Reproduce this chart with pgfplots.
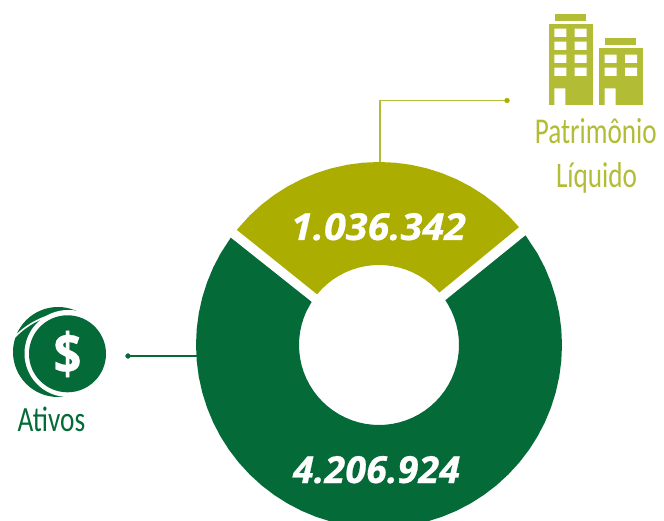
\documentclass[border=0pt]{standalone}
\usepackage{graphicx}
\usepackage{pgfplots}
\pgfplotsset{compat=1.18}
\usepackage{fontspec}
\setmainfont{Carlito}
\newfontfamily\numfont[FakeBold=0.6]{Open Sans}
\definecolor{dgreen}{HTML}{046A38}
\definecolor{olive}{HTML}{ABAD00}
\definecolor{lolive}{HTML}{B2BC34}
\pgfplotsset{base/.style={hide axis,scale only axis,width=664pt,height=521pt}}
\begin{document}
\begin{tikzpicture}
\useasboundingbox (0,0) rectangle (664pt,521pt);
% donut: polar data centred on the origin of this axis
\begin{axis}[base,at={(0,0)},anchor=south west,xmin=-379,xmax=285,ymin=-176,ymax=345]
\addplot[data cs=polar,fill=dgreen,draw=none] coordinates {
(36.8,183)(30,183)(25,183)(20,183)(15,183)(10,183)(5,183)(0,183)
(-5,183)(-10,183)(-15,183)(-20,183)(-25,183)(-30,183)(-35,183)(-40,183)(-45,183)(-50,183)(-55,183)(-60,183)
(-65,183)(-70,183)(-75,183)(-80,183)(-85,183)(-90,183)(-95,183)(-100,183)(-105,183)(-110,183)(-115,183)(-120,183)
(-125,183)(-130,183)(-135,183)(-140,183)(-145,183)(-150,183)(-155,183)(-160,183)(-165,183)(-170,183)(-175,183)(-180,183)
(-185,183)(-190,183)(-195,183)(-200,183)(-205,183)(-210,183)(-215.9,183)
(-212.6,80)(-205,80)(-200,80)(-195,80)(-190,80)(-185,80)(-180,80)(-175,80)(-170,80)(-165,80)(-160,80)(-155,80)(-150,80)
(-145,80)(-140,80)(-135,80)(-130,80)(-125,80)(-120,80)(-115,80)(-110,80)(-105,80)(-100,80)(-95,80)(-90,80)(-85,80)(-80,80)
(-75,80)(-70,80)(-65,80)(-60,80)(-55,80)(-50,80)(-45,80)(-40,80)(-35,80)(-30,80)(-25,80)(-20,80)(-15,80)(-10,80)(-5,80)(0,80)
(5,80)(10,80)(15,80)(20,80)(25,80)(30,80)(34,80)
};
\addplot[data cs=polar,fill=olive,draw=none] coordinates {
(141,183)(135,183)(130,183)(125,183)(120,183)(115,183)(110,183)(105,183)(100,183)(95,183)(90,183)
(85,183)(80,183)(75,183)(70,183)(65,183)(60,183)(55,183)(50,183)(45,183)(40.1,183)
(41,80)(45,80)(50,80)(55,80)(60,80)(65,80)(70,80)(75,80)(80,80)(85,80)(90,80)
(95,80)(100,80)(105,80)(110,80)(115,80)(120,80)(125,80)(130,80)(135,80)(140.7,80)
};
\end{axis}
% overlay in reference pixels
\begin{axis}[base,at={(0,0)},anchor=south west,xmin=0,xmax=664,ymin=0,ymax=521,y dir=reverse,clip=false]
\addplot[lolive,line width=1.5pt,mark=none] coordinates {(507,100.5)(380,100.5)(380,162)};
\addplot[only marks,mark=*,mark size=2.4pt,olive,mark options={draw=olive,fill=olive}] coordinates {(507,100.5)};
\addplot[dgreen,line width=1.5pt,mark=none] coordinates {(128,356)(197,356)};
\addplot[only marks,mark=*,mark size=2.4pt,dgreen,mark options={draw=dgreen,fill=dgreen}] coordinates {(128,356)};
% buildings
\fill[lolive] (555,14) rectangle (586.3,21.3);
\fill[lolive] (548.7,24) rectangle (592.7,105);
\fill[lolive] (605.3,38.3) rectangle (636.3,45.3);
\fill[lolive] (599,48) rectangle (643,105);
\fill[white] (554.3,28.7) rectangle (566.3,37) (574.7,28.7) rectangle (586.7,37)
 (554.3,41.7) rectangle (566.3,50) (574.7,41.7) rectangle (586.7,50)
 (554.3,54.7) rectangle (566.3,63) (574.7,54.7) rectangle (586.7,63)
 (554.3,67.7) rectangle (566.3,76) (574.7,67.7) rectangle (586.7,76)
 (554.3,88.3) rectangle (565.3,105)
 (604.7,54.7) rectangle (616.7,63) (625,54.7) rectangle (637,63)
 (604.7,67.7) rectangle (616.7,76) (625,67.7) rectangle (637,76)
 (604.7,88.3) rectangle (615.7,105);
% coin
\fill[dgreen] (axis cs:58,352) circle[radius=45pt];
\fill[white] (axis cs:68,353.5) circle[radius=43.5pt];
\fill[dgreen] (axis cs:67.5,353.8) circle[radius=38.5pt];
\draw[white,line width=1.6pt] (axis cs:12,340) .. controls (axis cs:25,325) and (axis cs:45,313) .. (axis cs:74,311);
\node[white,inner sep=0pt] at (axis cs:67.5,354) {\resizebox{28pt}{43pt}{\numfont\bfseries\$}};
% texts
\node[lolive,inner sep=0pt,anchor=base] at (axis cs:595.8,144) {\resizebox{122pt}{25pt}{Patrimônio}};
\node[lolive,inner sep=0pt,anchor=base] at (axis cs:596.5,188) {\resizebox{81pt}{25pt}{Líquido}};
\node[dgreen,inner sep=0pt,anchor=base] at (axis cs:51.5,431) {\resizebox{67.5pt}{24.5pt}{Ativos}};
\node[white,inner sep=0pt,anchor=base] at (axis cs:378.5,240) {\resizebox{175pt}{27pt}{\numfont\bfseries\itshape 1.036.342}};
\node[white,inner sep=0pt,anchor=base] at (axis cs:376.5,483) {\resizebox{167pt}{27pt}{\numfont\bfseries\itshape 4.206.924}};
\end{axis}
\end{tikzpicture}
\end{document}
